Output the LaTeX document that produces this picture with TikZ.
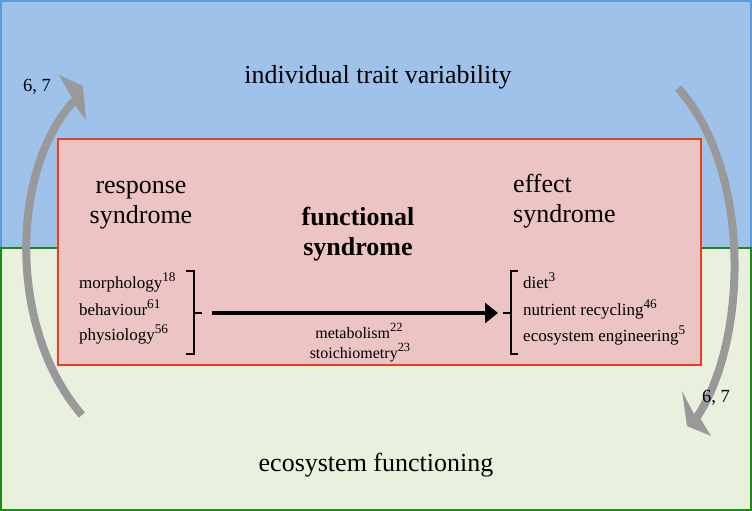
\documentclass[tikz,border=0pt]{standalone}
\usepackage{fontspec}
\usepackage{graphicx}
\setmainfont{Liberation Serif}
\usetikzlibrary{arrows.meta}
\definecolor{bluefill}{HTML}{9EC2E9}
\definecolor{blueline}{HTML}{5B9BDC}
\definecolor{greenfill}{HTML}{E9F0DD}
\definecolor{greenline}{HTML}{1A8A1A}
\definecolor{redfill}{HTML}{ECC4C4}
\definecolor{redline}{HTML}{E8401C}
\definecolor{arcgray}{HTML}{999999}
\newcommand\refsup[1]{\raisebox{0.4em}{\scalebox{0.78}{#1}}}
\tikzset{
  big/.style={font=\fontsize{26}{30}\selectfont, inner sep=0pt},
  small/.style={font=\fontsize{17}{20}\selectfont, inner sep=0pt, anchor=base west},
  tiny/.style={font=\fontsize{16}{18}\selectfont, inner sep=0pt, anchor=base},
  bracketline/.style={line width=2pt, line cap=butt},
  loop/.style={draw=arcgray, line width=8pt},
  loophead/.style={fill=arcgray},
  looplabel/.style={font=\fontsize{18.5}{20}\selectfont, inner sep=0pt},
}
\begin{document}
\begin{tikzpicture}[x=1pt,y=-1pt]
\useasboundingbox (0,0) rectangle (752,511);
% regions
\fill[bluefill] (0,0) rectangle (752,248);
\draw[blueline, line width=2pt] (1,248) -- (1,1) -- (751,1) -- (751,248);
\fill[greenfill] (0,248) rectangle (752,511);
\draw[greenline, line width=2pt] (1,248) rectangle (751,510);
% central box
\draw[redline, fill=redfill, line width=2pt] (58,139) rectangle (701,365);

% titles
\node[big, anchor=base] (itv) at (378,84) {individual trait variability};
\node[big, anchor=base] (ef) at (376,471) {ecosystem functioning};

\node[big, align=center, anchor=base] (resp) at (141,223) {response\\syndrome};
\node[big, align=left, anchor=base west] (eff) at (513,222) {effect\\syndrome};
\node[big, align=center, anchor=base] (func) at (358,255) {\bfseries functional\\\bfseries syndrome};

% left list
\node[small] (morph) at (79,288) {morphology\refsup{18}};
\node[small] (behav) at (79,315) {behaviour\refsup{61}};
\node[small] (phys) at (79,340) {physiology\refsup{56}};
% right list
\node[small] (diet) at (523,288) {diet\refsup{3}};
\node[small] (nutr) at (523,315) {nutrient recycling\refsup{46}};
\node[small] (eco) at (523,341) {ecosystem engineering\refsup{5}};

% middle labels
\node[tiny] (metab) at (359,338) {metabolism\refsup{22}};
\node[tiny] (stoich) at (360,358) {stoichiometry\refsup{23}};

% brackets
\coordinate (ltick) at (202,313);
\coordinate (rtick) at (503,313);
\draw[bracketline] (186,271) -- (194,271) -- (194,354) -- (186,354);
\draw[bracketline] (194,313) -- (ltick);
\draw[bracketline] (518,271) -- (511,271) -- (511,354) -- (518,354);
\draw[bracketline] (511,313) -- (rtick);

% main arrow
\draw[line width=4pt, -{Triangle[length=13pt,width=20pt]}, shorten <=10pt, shorten >=5pt] (ltick) -- (rtick);

% feedback arcs
\coordinate (lstart) at (82,415);
\coordinate (lend) at (74,101);
\coordinate (rstart) at (678,88);
\coordinate (rend) at (697,417);
\draw[loop] (lstart) .. controls (8,330) and (10,170) .. (lend);
\fill[loophead] (59,75) -- (83,86) -- (86,120) -- (75,105) -- (72,98) -- cycle;
\draw[loop] (rstart) .. controls (752,170) and (748,340) .. (rend);
\fill[loophead] (682,391) -- (694,414) -- (700,418) -- (711,436) -- (687,426) -- cycle;
\node[looplabel] (l1) at (37,87) {6, 7};
\node[looplabel] (l2) at (716,398) {6, 7};
\end{tikzpicture}
\end{document}
